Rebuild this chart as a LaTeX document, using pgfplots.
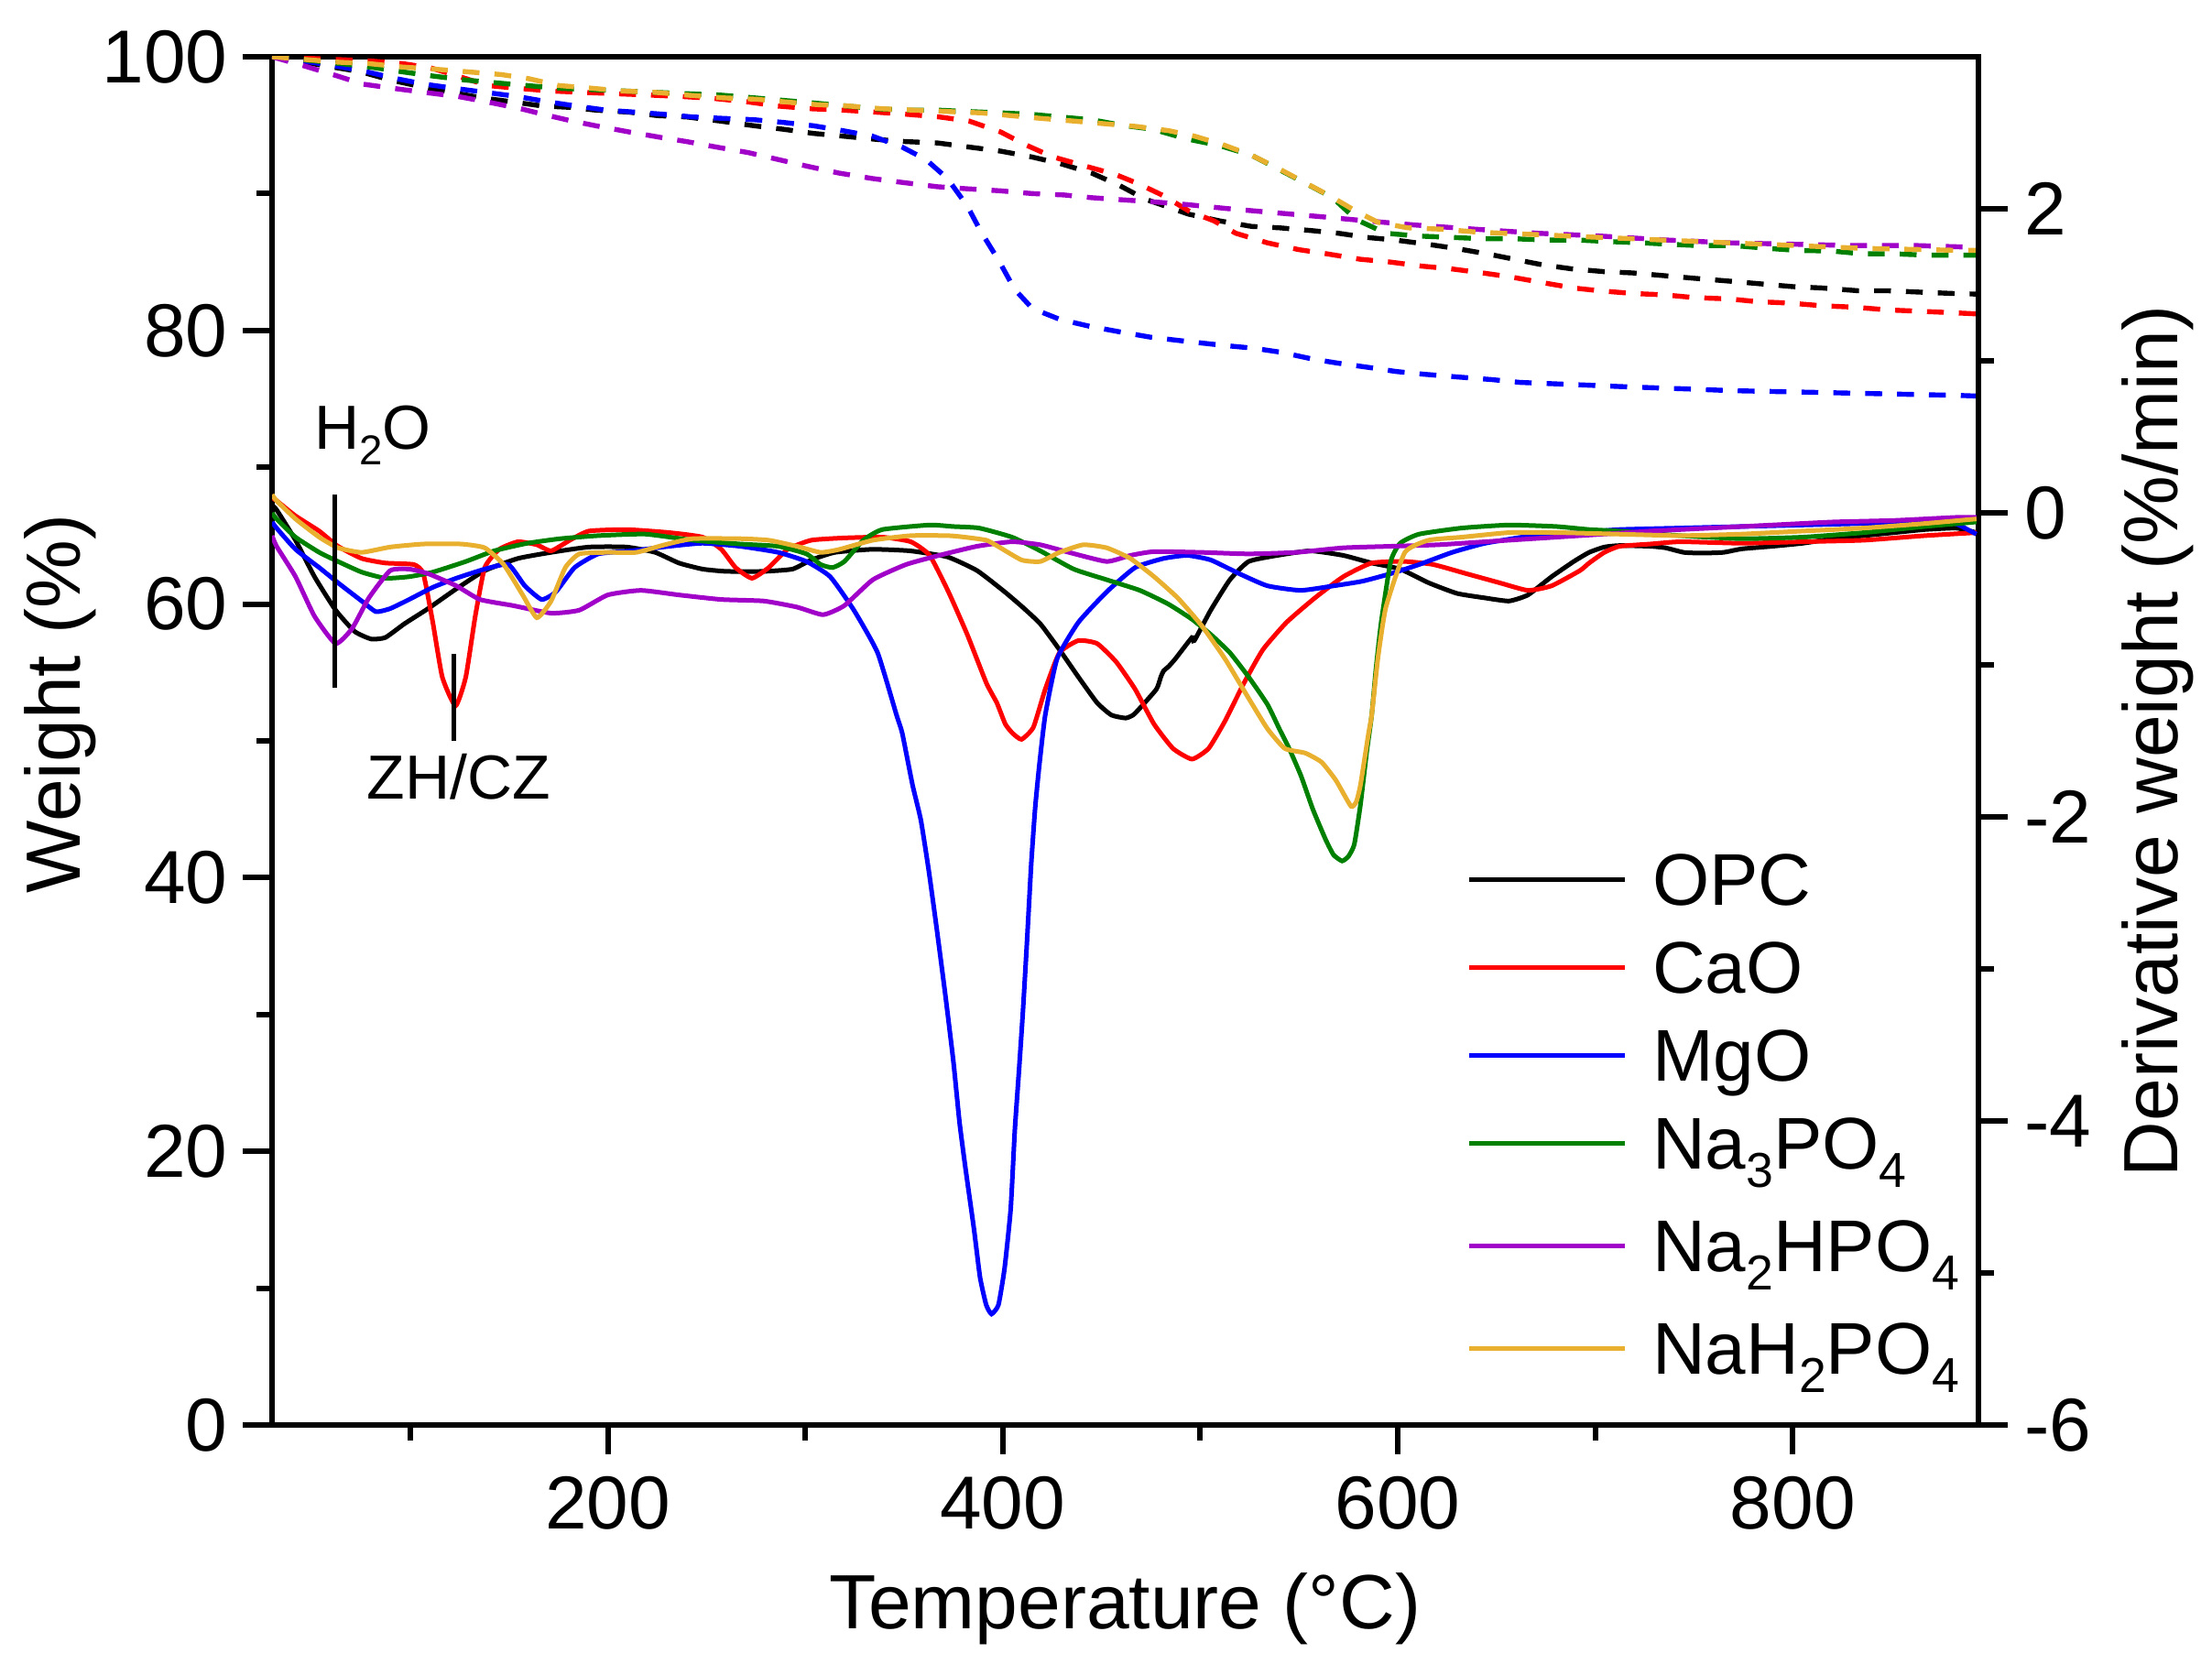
\documentclass[border=0pt]{standalone}
\usepackage{fontspec}
\setmainfont{Liberation Sans}
\usepackage{graphicx}
\usepackage{pgfplots}
\pgfplotsset{compat=1.18}

\definecolor{cPurple}{RGB}{160,0,200}
\definecolor{cYellow}{RGB}{232,176,46}
\definecolor{cGreen}{RGB}{0,128,0}
\definecolor{cRed}{RGB}{255,0,0}
\definecolor{cBlue}{RGB}{0,0,255}

\newcommand{\sub}[1]{\raisebox{-0.25em}{\scalebox{0.67}{#1}}}

\pgfplotsset{
  common/.style={
    scale only axis, width=465.75bp, height=373.5bp,
    xmin=30, xmax=894,
    axis line style={line width=1.5bp},
    tick style={line width=1.5bp, black},
    major tick length=8bp, minor tick length=4.2bp,
    tick align=outside,
    /pgf/number format/assume math mode=true,
    tick label style={font=\fontsize{20.5bp}{24bp}\selectfont, inner sep=0pt},
    label style={font=\fontsize{21bp}{25bp}\selectfont, inner sep=0pt},
    no markers,
  }
}

\begin{document}
\begin{tikzpicture}
\path[use as bounding box] (-74.25bp,-65.25bp) rectangle (529.5bp,389bp);

% ---------------- TG (left axis, dashed) ----------------
\begin{axis}[common,
  ymin=0, ymax=100, ytick={0,20,40,60,80,100}, minor ytick={10,30,50,70,90},
  xtick={200,400,600,800}, minor xtick={100,300,500,700},
  xtick pos=left, ytick pos=left,
  xticklabel style={anchor=north, yshift=-5.9bp},
  yticklabel style={anchor=east, xshift=-3.9bp},
  xlabel={Temperature (°C)}, ylabel={Weight (\%)},
  xlabel style={at={(axis description cs:0.5,-0.1486)}, anchor=base},
  ylabel style={at={(axis description cs:-0.1122,0.527)}, anchor=base},
  every axis plot/.append style={line width=1.35bp, dash pattern=on 4.6bp off 4.1bp},
]
% OPC
\addplot[black] coordinates {
(30,100.0)(75,98.9)(90,98.3)(106,97.8)(121,97.4)(136,97.0)(152,96.7)(167,96.4)(181,96.3)(194,96.1)(211,95.95)(225,95.7)(240,95.6)(257,95.3)(274,94.96)(289,94.7)(304,94.4)(319,94.2)(336,93.96)(351,93.8)(367,93.7)(383,93.4)(399,93.1)(414,92.7)(429,92.2)(445,91.5)(459,90.6)(472,89.6)(494,88.5)(510,88.0)(526,87.6)(540,87.5)(556,87.3)(570,87.1)(584,86.8)(599,86.6)(615,86.3)(629,86.0)(645,85.6)(659,85.2)(673,84.8)(688,84.5)(704,84.3)(719,84.2)(735,84.0)(751,83.8)(768,83.6)(784,83.4)(800,83.2)(815,83.1)(833,82.9)(848,82.9)(864,82.8)(881,82.7)(894,82.65)
};
% CaO
\addplot[cRed] coordinates {
(30,100)(79,99.7)(96,99.5)(110,99.2)(124,98.6)(139,97.9)(154,97.7)(171,97.5)(187,97.4)(204,97.3)(221,97.2)(237,97.1)(254,96.95)(271,96.7)(286,96.4)(303,96.2)(319,96.1)(336,95.95)(351,95.8)(368,95.6)(383,95.3)(399,94.5)(411,93.6)(425,92.7)(442,92.0)(457,91.4)(469,90.7)(482,89.8)(494.5,88.7)(507,88.0)(518,87.1)(534,86.4)(550,85.9)(564,85.6)(581,85.2)(596,85.0)(612,84.7)(627,84.5)(643,84.2)(657.5,83.9)(673,83.5)(689,83.1)(702,82.9)(719,82.7)(735,82.6)(750,82.4)(768,82.3)(782,82.1)(798,82.0)(815,81.8)(831,81.7)(848,81.5)(864,81.4)(880,81.3)(894,81.2)
};
% MgO
\addplot[cBlue] coordinates {
(30,100)(50,99.6)(65,99.25)(78,98.9)(93,98.4)(107,98.0)(122,97.7)(138,97.4)(154,97.1)(170,96.7)(184,96.4)(199,96.1)(214,95.95)(228,95.8)(243,95.6)(258,95.5)(274,95.4)(289,95.2)(304,94.96)(319,94.6)(334,94.2)(349,93.4)(361,92.5)(372,91.1)(382,89.1)(389,87.2)(398,85.1)(406,83.0)(415,81.6)(429,80.8)(444,80.3)(459,79.9)(475,79.5)(493,79.2)(512,78.9)(527,78.7)(541,78.4)(557,77.9)(570,77.6)(585,77.3)(599,77.0)(613,76.8)(630,76.6)(648,76.4)(662,76.2)(679,76.1)(696,76.0)(712,75.9)(731,75.8)(751,75.7)(768,75.6)(785,75.55)(802,75.5)(818,75.45)(835,75.4)(851,75.35)(868,75.3)(884,75.25)(894,75.2)
};
% Na3PO4
\addplot[cGreen] coordinates {
(30,100)(65,99.5)(82,99.2)(96,98.9)(111,98.6)(128,98.3)(143,98.1)(159,97.9)(174,97.7)(192,97.6)(224,97.4)(240,97.3)(257,97.2)(274,97.0)(306,96.6)(336,96.2)(350,96.1)(367,96.1)(382,96.0)(399,95.9)(414,95.8)(429,95.6)(445,95.4)(460,95.0)(476,94.7)(493,94.0)(510,93.5)(526,92.8)(554,90.7)(567,89.7)(579,88.1)(594,87.1)(610,86.9)(627,86.8)(643,86.7)(659,86.7)(676,86.6)(692,86.6)(706,86.5)(724,86.4)(737,86.3)(752,86.2)(770,86.2)(787,86.0)(802,85.85)(820,85.8)(835,85.6)(851,85.6)(868,85.5)(886,85.5)(894,85.5)
};
% Na2HPO4
\addplot[cPurple] coordinates {
(30,100)(47,99.3)(63,98.6)(76,98.0)(91,97.7)(107,97.4)(124,97.1)(139,96.7)(156,96.2)(170,95.7)(182,95.3)(196,94.9)(211,94.5)(227,94.1)(240,93.8)(255,93.4)(271,93.0)(286,92.5)(301,92.0)(317,91.5)(334,91.1)(350,90.8)(367,90.5)(382,90.35)(399,90.2)(415,90.0)(431,89.9)(445,89.7)(460,89.55)(476,89.4)(493,89.2)(514,88.9)(530,88.7)(546,88.5)(562,88.3)(577,88.1)(609,87.7)(639,87.4)(671,87.1)(702,86.9)(737,86.6)(768,86.4)(800,86.3)(831,86.2)(863,86.2)(886,86.1)(894,86.1)
};
% NaH2PO4
\addplot[cYellow] coordinates {
(30,100)(64,99.6)(79,99.5)(96,99.25)(112,99.1)(129,98.9)(146,98.7)(160,98.4)(175,97.9)(192,97.7)(207,97.5)(224,97.4)(240,97.2)(258,97.0)(275,96.9)(290,96.7)(306,96.5)(322,96.4)(339,96.2)(355,96.1)(372,96.0)(389,95.9)(404,95.7)(419,95.5)(436,95.3)(452,95.1)(468,94.9)(484,94.6)(497,94.2)(511,93.6)(526,92.8)(540,91.8)(553,90.8)(566,89.8)(579,88.7)(590,87.9)(605,87.5)(622,87.4)(639,87.2)(653,87.1)(671,87.0)(686,86.9)(702,86.8)(719,86.7)(735,86.6)(752,86.5)(768,86.4)(785,86.3)(802,86.2)(818,86.1)(835,86.0)(851,85.95)(868,85.9)(884,85.85)(894,85.85)
};
\end{axis}

% ---------------- DTG (right axis, solid) ----------------
\begin{axis}[common,
  ymin=-6, ymax=3, ytick={-6,-4,-2,0,2}, minor ytick={-5,-3,-1,1},
  hide x axis, axis y line*=right,
  yticklabel style={anchor=west, xshift=4.4bp},
  ylabel={Derivative weight (\%/min)},
  ylabel style={at={(axis description cs:1.1165,0.5)}, anchor=base},
  every axis plot/.append style={line width=1.25bp, smooth, tension=0.3},
  legend cell align=left,
  legend style={draw=none, fill=none, inner sep=0pt, outer sep=0pt,
    row sep=0pt, column sep=7bp,
    at={(axis description cs:0.7,0.4197)}, anchor=north west,
    font=\fontsize{20bp}{24bp}\selectfont,
    nodes={inner sep=0pt, text depth=},
    cells={anchor=base west}},
  legend image code/.code={\draw[#1] (0bp,7.2bp) -- (42.5bp,7.2bp);},
]
% OPC
\addplot[black] coordinates {
(30,0.05)(32.3,0.02)(41.9,-0.18)(51.5,-0.42)(62.2,-0.64)(71.8,-0.78)(80.2,-0.83)(87.4,-0.82)(97,-0.73)(109,-0.63)(123.3,-0.50)(137.7,-0.38)(154.5,-0.30)(171.3,-0.26)(190.4,-0.225)(209.6,-0.225)(224,-0.26)(236,-0.33)(248,-0.37)(260,-0.385)(279,-0.385)(293.5,-0.37)(303,-0.31)(315,-0.26)(334,-0.24)(353,-0.25)(372,-0.29)(387,-0.38)(401,-0.52)(410,-0.62)(419,-0.73)(428.7,-0.90)(438.3,-1.08)(447.8,-1.25)(455,-1.33)(462.2,-1.35)(466,-1.33)(469.4,-1.285)(477.8,-1.16)(480,-1.08)(481.4,-1.04)(484,-1.01)(487.4,-0.96)(495.8,-0.82)(497,-0.84)(505.3,-0.64)(515,-0.44)(524.5,-0.32)(539,-0.28)(555.7,-0.25)(572.4,-0.28)(586.8,-0.33)(601.2,-0.37)(615.6,-0.46)(630,-0.53)(644.3,-0.56)(656.3,-0.58)(665.9,-0.54)(677.9,-0.42)(689.1,-0.32)(696.9,-0.26)(704.6,-0.225)(712.3,-0.215)(727.8,-0.22)(735.5,-0.23)(744.8,-0.26)(754,-0.265)(764.9,-0.26)(774.2,-0.237)(789.6,-0.22)(805.1,-0.20)(820.5,-0.17)(836,-0.15)(851.4,-0.13)(866.9,-0.11)(882.4,-0.10)(888.6,-0.116)(893,-0.13)
};
\addlegendentry{\rule[-9bp]{0pt}{24bp}OPC}
% CaO
\addplot[cRed] coordinates {
(30,0.10)(32.3,0.08)(41.9,-0.02)(53.9,-0.12)(63.4,-0.22)(75.4,-0.30)(87.4,-0.33)(101.8,-0.34)(106.6,-0.40)(111.4,-0.72)(116.2,-1.08)(122.9,-1.27)(128.1,-1.08)(132.9,-0.68)(137.7,-0.36)(145,-0.24)(154.5,-0.19)(164.1,-0.21)(171.3,-0.25)(180.8,-0.18)(190.4,-0.12)(209.6,-0.11)(231.2,-0.13)(248,-0.16)(257.5,-0.24)(264.7,-0.36)(273,-0.43)(281.5,-0.36)(291,-0.24)(303,-0.18)(319.8,-0.165)(339,-0.16)(353.4,-0.19)(363,-0.28)(372.5,-0.52)(382,-0.80)(391.7,-1.12)(397,-1.25)(401.3,-1.39)(405,-1.45)(409.5,-1.49)(415.5,-1.41)(421.5,-1.16)(428.7,-0.92)(438.3,-0.84)(447.8,-0.86)(457.4,-0.98)(467,-1.16)(476.6,-1.39)(486.2,-1.55)(495.8,-1.62)(504.2,-1.55)(512.5,-1.37)(522.1,-1.12)(531.7,-0.90)(543.7,-0.72)(558,-0.56)(572.4,-0.42)(586.8,-0.33)(603.6,-0.32)(618,-0.34)(634.7,-0.40)(651.5,-0.46)(665.9,-0.51)(677.9,-0.48)(692.2,-0.38)(696.9,-0.33)(704.6,-0.26)(712.3,-0.22)(727.8,-0.205)(743.2,-0.19)(774.2,-0.20)(805.1,-0.19)(836,-0.18)(866.9,-0.15)(893,-0.13)
};
\addlegendentry{\rule[-9bp]{0pt}{24bp}CaO}
% MgO
\addplot[cBlue] coordinates {
(30,-0.06)(32.3,-0.10)(41.9,-0.24)(53.9,-0.36)(63.4,-0.46)(75.4,-0.58)(82.6,-0.65)(89.8,-0.63)(99.4,-0.57)(111.4,-0.49)(123.3,-0.43)(137.7,-0.37)(149.7,-0.34)(158,-0.48)(166.5,-0.57)(173.7,-0.52)(183.2,-0.36)(195.2,-0.27)(212,-0.25)(231.2,-0.22)(248,-0.20)(267,-0.22)(286.3,-0.26)(300.6,-0.32)(312.6,-0.42)(324.6,-0.64)(336.6,-0.92)(346.2,-1.33)(349.1,-1.45)(354.3,-1.79)(358.5,-2.02)(362.6,-2.36)(366.7,-2.75)(370.9,-3.17)(375,-3.61)(378.1,-4.01)(381.2,-4.32)(385.4,-4.71)(388.5,-5.03)(391.6,-5.21)(394.3,-5.27)(397.8,-5.21)(400.9,-4.97)(404,-4.58)(406.1,-4.06)(408.2,-3.67)(410.2,-3.28)(412.3,-2.81)(414.4,-2.31)(416.4,-1.94)(418.5,-1.66)(421.5,-1.33)(427.5,-0.96)(438.3,-0.72)(452.6,-0.52)(467,-0.36)(481.4,-0.30)(493.4,-0.28)(505.3,-0.31)(519.7,-0.40)(534,-0.48)(550.9,-0.51)(567.6,-0.48)(582,-0.45)(596.4,-0.40)(610.8,-0.34)(627.5,-0.26)(644.3,-0.20)(668.3,-0.15)(692.2,-0.13)(712,-0.11)(743,-0.10)(774,-0.09)(805,-0.08)(836,-0.07)(867,-0.06)(882,-0.07)(890,-0.12)(893,-0.14)
};
\addlegendentry{\rule[-9bp]{0pt}{24bp}MgO}
% Na3PO4
\addplot[cGreen] coordinates {
(30,0.0)(32.3,-0.04)(41.9,-0.16)(53.9,-0.26)(63.4,-0.32)(75.4,-0.39)(87.4,-0.43)(99.4,-0.42)(111.4,-0.39)(128.1,-0.32)(142.5,-0.25)(159.3,-0.20)(176,-0.17)(195.2,-0.15)(219,-0.14)(243,-0.18)(267,-0.205)(286.3,-0.22)(300.6,-0.27)(307.8,-0.34)(313.8,-0.36)(319.8,-0.32)(329.4,-0.18)(339,-0.11)(363,-0.08)(374.9,-0.09)(388,-0.10)(404.7,-0.16)(419,-0.25)(435.9,-0.37)(452.6,-0.44)(469.4,-0.51)(483.8,-0.60)(495.8,-0.70)(505.3,-0.80)(515,-0.92)(524.5,-1.08)(534,-1.26)(540,-1.42)(545,-1.55)(551,-1.73)(557,-1.95)(563.5,-2.15)(567.5,-2.25)(571.8,-2.29)(575,-2.26)(578,-2.18)(581.1,-1.92)(584.2,-1.58)(586.8,-1.33)(589,-1.02)(591.6,-0.72)(596.4,-0.32)(601.2,-0.20)(610.8,-0.14)(632.3,-0.10)(656.3,-0.08)(680.3,-0.09)(697,-0.11)(712,-0.12)(743,-0.15)(774,-0.17)(805,-0.16)(836,-0.13)(867,-0.09)(893,-0.06)
};
\addlegendentry{\rule[-13bp]{0pt}{28bp}Na\sub{3}PO\sub{4}}
% Na2HPO4
\addplot[cPurple] coordinates {
(30,-0.15)(32.3,-0.22)(41.9,-0.42)(51.5,-0.68)(62.2,-0.86)(70.6,-0.76)(79,-0.56)(89.8,-0.38)(99.4,-0.37)(109,-0.40)(123.3,-0.48)(135.3,-0.57)(152,-0.61)(171.3,-0.66)(185.6,-0.64)(200,-0.54)(216.8,-0.51)(236,-0.54)(257.5,-0.57)(279,-0.58)(295.8,-0.62)(309,-0.67)(319.8,-0.61)(334.2,-0.44)(351,-0.34)(367.7,-0.28)(386.9,-0.22)(404.7,-0.19)(419,-0.21)(433.5,-0.26)(452.6,-0.32)(464.6,-0.28)(476.6,-0.255)(500.6,-0.26)(524.5,-0.27)(548.5,-0.26)(572.4,-0.23)(596.4,-0.22)(620.4,-0.21)(644.3,-0.19)(668.3,-0.17)(692.2,-0.15)(716.2,-0.13)(727.8,-0.12)(758.7,-0.10)(789.6,-0.08)(820.5,-0.06)(851.4,-0.05)(882.4,-0.03)(893,-0.03)
};
\addlegendentry{\rule[-13bp]{0pt}{28bp}Na\sub{2}HPO\sub{4}}
% NaH2PO4
\addplot[cYellow] coordinates {
(30,0.12)(32.3,0.08)(41.9,-0.04)(53.9,-0.16)(63.4,-0.23)(75.4,-0.26)(89.8,-0.225)(106.6,-0.205)(125.7,-0.205)(137.7,-0.23)(147.3,-0.34)(156.9,-0.54)(164.1,-0.69)(171.3,-0.58)(178.5,-0.36)(185.6,-0.27)(200,-0.26)(214.4,-0.26)(228.8,-0.21)(243,-0.17)(267,-0.17)(281.5,-0.18)(295.8,-0.22)(307.8,-0.26)(317.4,-0.24)(334.2,-0.18)(353.4,-0.15)(372.5,-0.15)(380.8,-0.16)(391.7,-0.18)(397.5,-0.22)(409.5,-0.31)(419,-0.32)(428.7,-0.26)(440.7,-0.21)(452.6,-0.23)(464.6,-0.30)(476.6,-0.42)(488.6,-0.56)(500.6,-0.74)(512.5,-0.96)(524.5,-1.22)(534,-1.42)(542.8,-1.55)(553.1,-1.58)(561.4,-1.64)(568.7,-1.76)(576.3,-1.93)(579,-1.90)(581.1,-1.79)(585.2,-1.45)(586.8,-1.33)(590,-0.95)(594,-0.62)(603.6,-0.26)(615.6,-0.18)(632.3,-0.16)(656.3,-0.13)(681.4,-0.13)(712,-0.14)(743,-0.15)(774,-0.14)(805,-0.12)(836,-0.10)(867,-0.07)(893,-0.04)
};
\addlegendentry{\rule[-9bp]{0pt}{24bp}NaH\sub{2}PO\sub{4}}

% annotations
\draw[line width=1.3bp] (axis cs:61.8,0.12) -- (axis cs:61.8,-1.15);
\draw[line width=1.3bp] (axis cs:122.1,-0.93) -- (axis cs:122.1,-1.50);
\node[font=\fontsize{17bp}{20bp}\selectfont, anchor=base west, inner sep=0pt] at (axis cs:51.1,0.416) {H\sub{2}O};
\node[font=\fontsize{17bp}{20bp}\selectfont, anchor=base, inner sep=0pt] at (axis cs:124.4,-1.883) {ZH/CZ};
\end{axis}
\end{tikzpicture}
\end{document}
